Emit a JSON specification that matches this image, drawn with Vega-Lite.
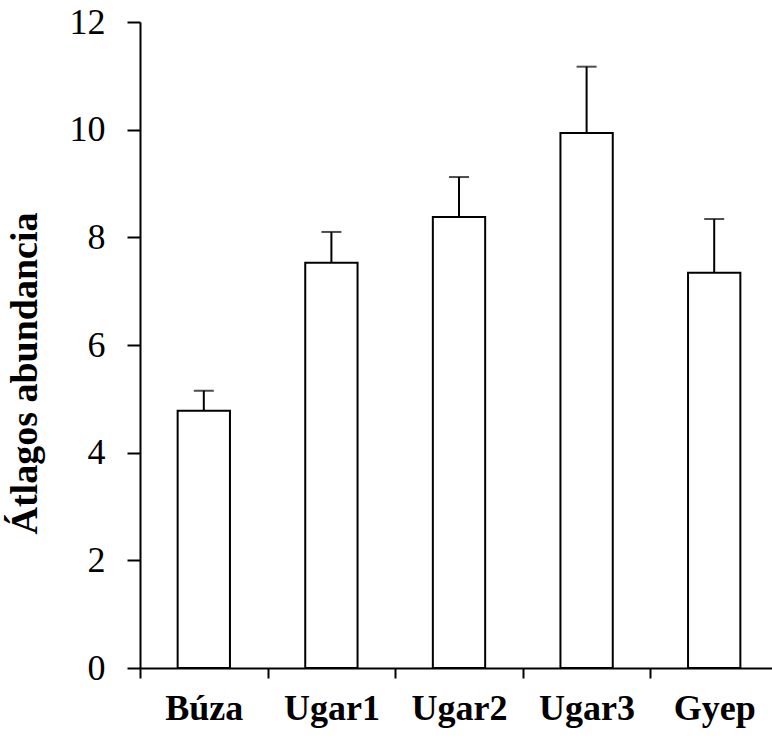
{
  "$schema": "https://vega.github.io/schema/vega-lite/v6.json",
  "width": 638,
  "height": 646,
  "autosize": "none",
  "padding": {"left": 140, "top": 22, "right": 0, "bottom": 77},
  "background": "white",
  "config": {"view": {"stroke": null}},
  "data": {"values": [
    {"site": "Búza", "mean": 4.78, "upper": 5.15},
    {"site": "Ugar1", "mean": 7.53, "upper": 8.1},
    {"site": "Ugar2", "mean": 8.38, "upper": 9.12},
    {"site": "Ugar3", "mean": 9.94, "upper": 11.17},
    {"site": "Gyep", "mean": 7.34, "upper": 8.34}
  ]},
  "encoding": {
    "x": {"field": "site", "type": "nominal", "sort": null,
      "scale": {"paddingInner": 0, "paddingOuter": 0},
      "axis": {"title": null, "labelAngle": 0, "tickBand": "extent", "tickSize": 10, "tickWidth": 2, "tickColor": "black",
        "domainColor": "black", "domainWidth": 2, "labelFont": "Liberation Serif", "labelFontWeight": "bold", "labelFontSize": 36,
        "labelColor": "black", "labelPadding": 13}}
  },
  "layer": [
    {"mark": {"type": "bar", "fill": "white", "stroke": "black", "strokeWidth": 2, "width": {"band": 0.41}},
     "encoding": {"y": {"field": "mean", "type": "quantitative",
       "scale": {"domain": [0, 12], "nice": false},
       "axis": {"values": [0, 2, 4, 6, 8, 10, 12], "format": "d", "grid": false, "tickSize": 13, "tickWidth": 2, "tickColor": "black",
         "domainColor": "black", "domainWidth": 2, "labelFont": "Liberation Serif", "labelFontSize": 36, "labelColor": "black",
         "labelPadding": 22, "title": "Átlagos abundancia", "titleFont": "Liberation Serif", "titleFontWeight": "bold",
         "titleFontSize": 38, "titleColor": "black", "titleX": -115, "titleY": 351, "titleAngle": 270,
         "titleAlign": "center", "titleBaseline": "middle"}}}},
    {"mark": {"type": "rule", "color": "black", "strokeWidth": 2},
     "encoding": {"y": {"field": "mean", "type": "quantitative"}, "y2": {"field": "upper"}}},
    {"mark": {"type": "tick", "color": "black", "thickness": 2, "size": 20},
     "encoding": {"y": {"field": "upper", "type": "quantitative"}}}
  ]
}
